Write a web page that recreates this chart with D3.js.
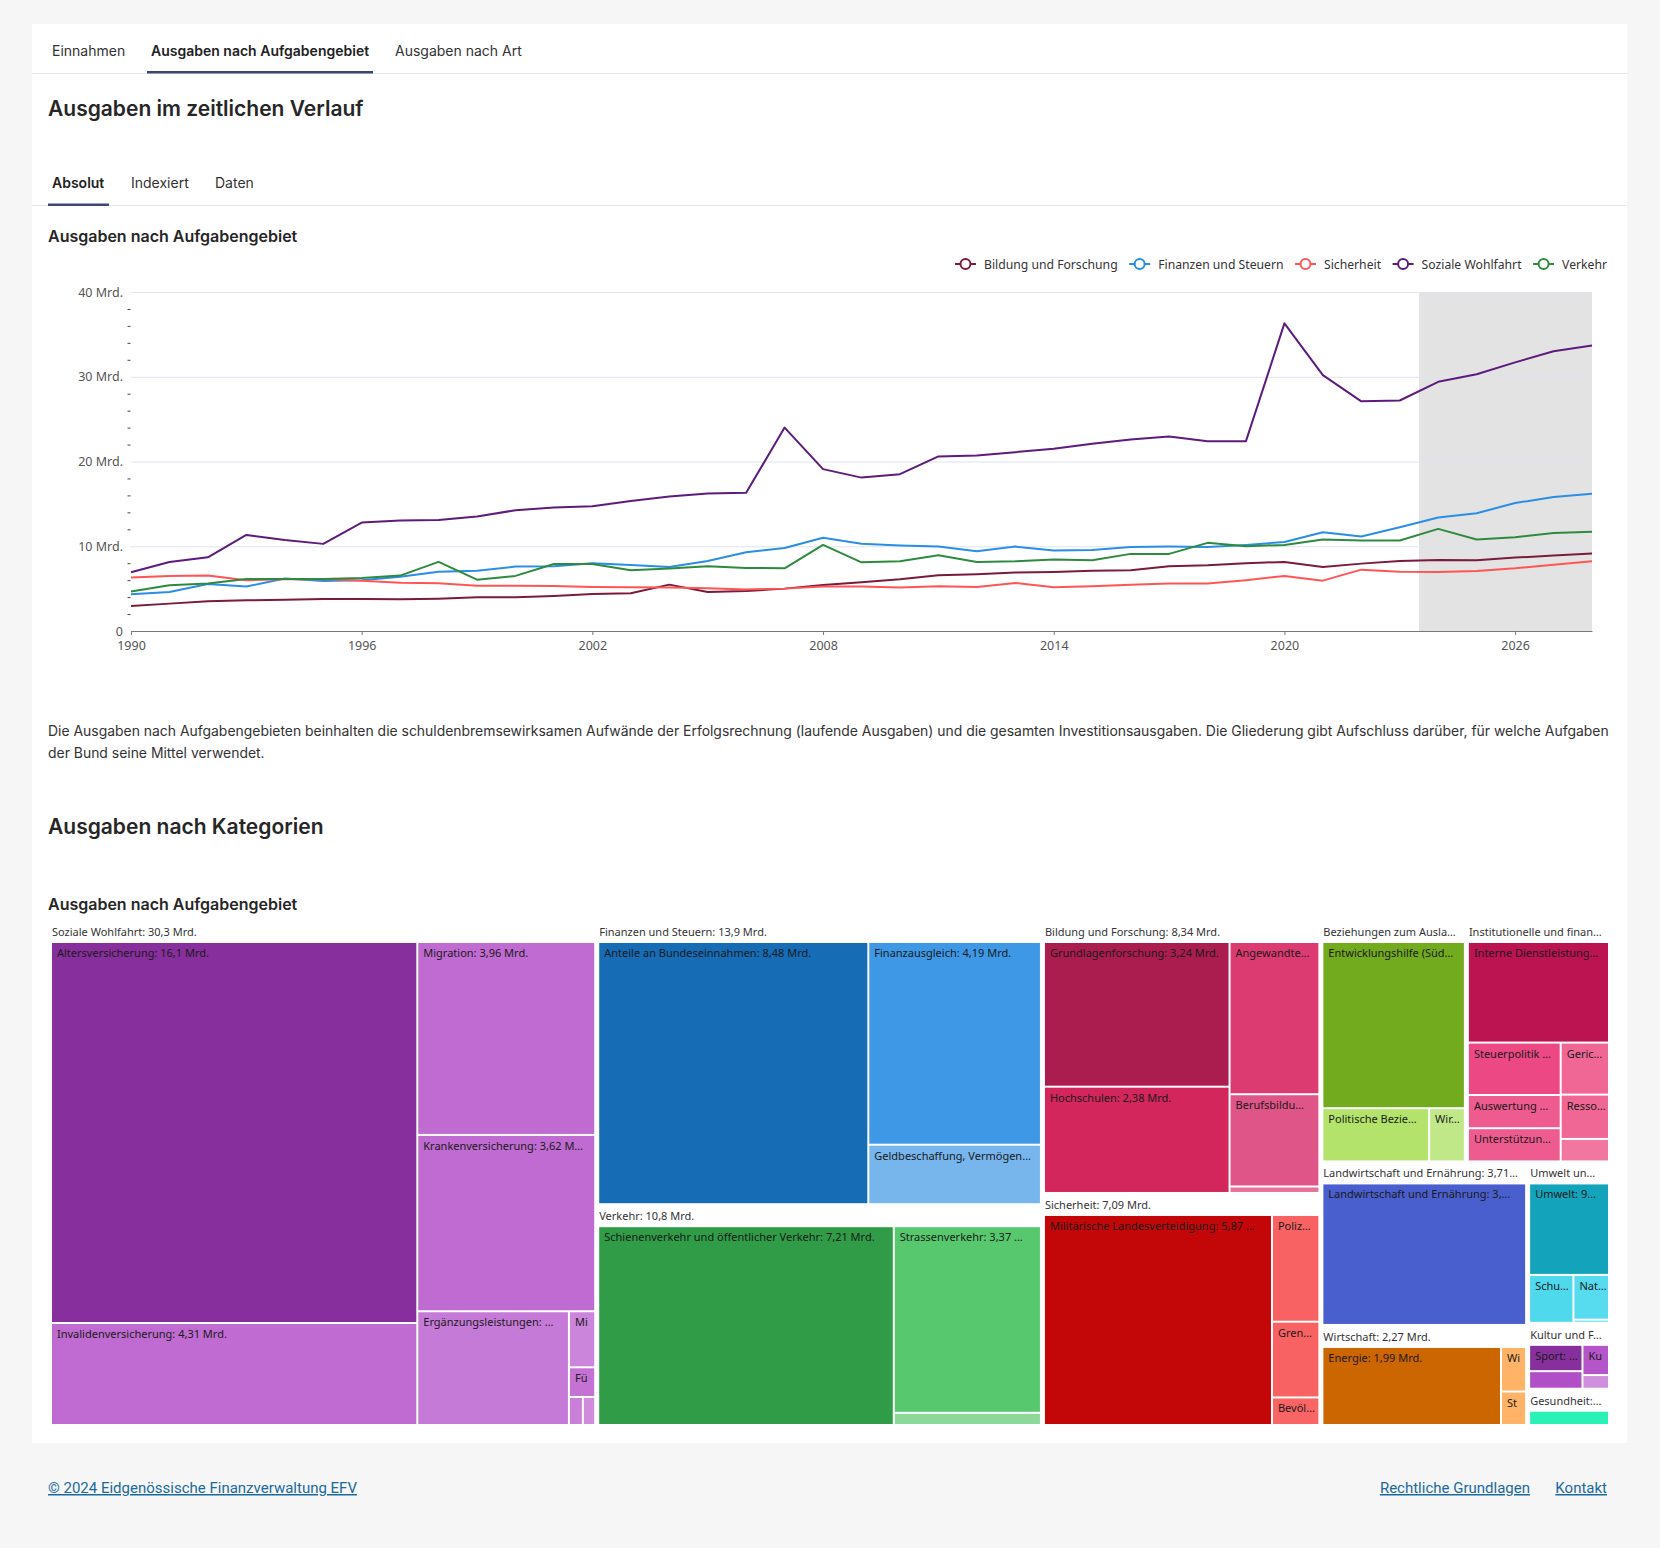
<!DOCTYPE html>
<html lang="de"><head><meta charset="utf-8">
<script src="https://cdn.jsdelivr.net/npm/d3@7/dist/d3.min.js"></script>
<style>
body{margin:0;background:#f6f6f6;overflow:hidden;}
svg{display:block;}
.ui{font-family:Inter,"Noto Sans",sans-serif;}
.ch{font-family:"Noto Sans","Open Sans",sans-serif;}
</style></head><body>
<svg id="page" width="1660" height="1548"></svg>
<script>
// ---------- DATA ----------
const years = [1990,1991,1992,1993,1994,1995,1996,1997,1998,1999,2000,2001,2002,2003,2004,2005,2006,2007,2008,2009,2010,2011,2012,2013,2014,2015,2016,2017,2018,2019,2020,2021,2022,2023,2024,2025,2026,2027,2028];
const bildung    = [2.95,3.23,3.5,3.62,3.7,3.78,3.78,3.74,3.82,3.98,3.98,4.13,4.37,4.45,5.47,4.6,4.72,5.0,5.43,5.75,6.1,6.57,6.7,6.9,6.97,7.1,7.17,7.64,7.76,8.0,8.15,7.56,7.95,8.27,8.39,8.34,8.66,8.9,9.13];
const finanzen   = [4.33,4.6,5.55,5.24,6.2,5.9,6.0,6.4,7.0,7.1,7.6,7.64,8.0,7.8,7.56,8.27,9.3,9.8,11.0,10.3,10.1,9.96,9.4,9.96,9.5,9.57,9.9,9.96,9.92,10.16,10.5,11.65,11.14,12.24,13.4,13.9,15.1,15.8,16.2];
const sicherheit = [6.3,6.5,6.54,6.0,6.1,6.14,5.94,5.7,5.63,5.35,5.35,5.3,5.2,5.16,5.12,5.04,4.9,5.0,5.24,5.24,5.12,5.28,5.2,5.67,5.16,5.28,5.47,5.6,5.6,6.0,6.5,5.94,7.24,7.0,6.97,7.09,7.4,7.83,8.23];
const soziale    = [6.93,8.15,8.7,11.34,10.75,10.28,12.8,13.03,13.1,13.5,14.25,14.57,14.72,15.35,15.87,16.22,16.3,24.0,19.1,18.1,18.5,20.6,20.7,21.1,21.5,22.1,22.6,22.95,22.4,22.4,36.3,30.2,27.1,27.2,29.4,30.3,31.7,33.0,33.7];
const verkehr    = [4.65,5.4,5.6,6.14,6.14,6.14,6.26,6.54,8.15,6.06,6.5,7.9,7.9,7.17,7.36,7.64,7.44,7.4,10.16,8.1,8.23,8.94,8.15,8.23,8.43,8.35,9.1,9.1,10.4,10.0,10.16,10.8,10.67,10.67,12.05,10.8,11.06,11.57,11.7];
const seriesNames = ["Bildung und Forschung","Finanzen und Steuern","Sicherheit","Soziale Wohlfahrt","Verkehr"];
const seriesValues = [bildung, finanzen, sicherheit, soziale, verkehr];
const forecastStartYear = 2024;
const yMajorTicks = [0,10,20,30,40];
const yMinorTicks = [2,4,6,8,12,14,16,18,22,24,26,28,32,34,36,38];
const xTicks = [1990,1996,2002,2008,2014,2020,2026];

// Treemap (Mrd. CHF)
const tmGroupNames = ["Soziale Wohlfahrt","Finanzen und Steuern","Verkehr","Bildung und Forschung","Sicherheit",
  "Beziehungen zum Ausland – Internationale Zusammenarbeit","Institutionelle und finanzielle Voraussetzungen",
  "Landwirtschaft und Ernährung","Wirtschaft","Umwelt und Raumordnung","Kultur und Freizeit","Gesundheit"];
const tmSoziale = [["Altersversicherung",16.1],["Invalidenversicherung",4.31],["Migration",3.96],["Krankenversicherung",3.62],["Ergänzungsleistungen",1.99],["Militärversicherung",0.17],["Fürsorge",0.09],["Sozialer Wohnungsbau",0.045],["Familienpolitik",0.04]];
const tmFinanzen = [["Anteile an Bundeseinnahmen",8.48],["Finanzausgleich",4.19],["Geldbeschaffung, Vermögens- und Schuldenverwaltung",1.23]];
const tmVerkehr = [["Schienenverkehr und öffentlicher Verkehr",7.21],["Strassenverkehr",3.37],["Luftfahrt",0.22]];
const tmBildung = [["Grundlagenforschung",3.24],["Hochschulen",2.38],["Angewandte Forschung",1.65],["Berufsbildung",1.0],["Übriges Bildungswesen",0.07]];
const tmSicherheit = [["Militärische Landesverteidigung",5.87],["Polizei",0.62],["Grenzkontrolle",0.44],["Bevölkerungsschutz",0.16]];
const tmAusland = [["Entwicklungshilfe (Süd- und Ostländer)",2.92],["Politische Beziehungen",0.70],["Wirtschaftliche Beziehungen",0.235]];
const tmInstitutionell = [["Interne Dienstleistungen",1.75],["Steuerpolitik und Steuererhebung",0.60],["Auswertung und Statistik",0.38],["Unterstützung der Regierung",0.38],["Gerichte",0.31],["Ressourcenverwaltung",0.264],["Legislative",0.134]];
const tmLandwirtschaft = [["Landwirtschaft und Ernährung",3.71]];
const tmWirtschaft = [["Energie",1.99],["Wirtschaftsordnung",0.16],["Standortförderung",0.12]];
const tmUmwelt = [["Umwelt",0.963],["Schutz vor Naturgefahren",0.28],["Naturschutz",0.21],["Raumordnung",0.015]];
const tmKultur = [["Sport",0.24],["Kulturerhaltung",0.16],["Kulturförderung",0.137],["Medien",0.062]];
const tmGesundheit = [["Gesundheit",0.33]];
const tmGroupItems = [tmSoziale,tmFinanzen,tmVerkehr,tmBildung,tmSicherheit,tmAusland,tmInstitutionell,tmLandwirtschaft,tmWirtschaft,tmUmwelt,tmKultur,tmGesundheit];

// ---------- STYLES ----------
const seriesColors = ["#7a1a3c","#2a8de6","#ff5555","#5c1b7d","#2e8a3e"];
const leafColors = {
  "Altersversicherung":"#872f9c","Invalidenversicherung":"#bf6bd1","Migration":"#bf6bd1","Krankenversicherung":"#bf6bd1",
  "Ergänzungsleistungen":"#c67ad7","Militärversicherung":"#cb85da","Fürsorge":"#c473d5","Sozialer Wohnungsbau":"#c97ed8","Familienpolitik":"#cf8cdc",
  "Anteile an Bundeseinnahmen":"#176cb6","Finanzausgleich":"#3e98e5","Geldbeschaffung, Vermögens- und Schuldenverwaltung":"#77b5ed",
  "Schienenverkehr und öffentlicher Verkehr":"#309c47","Strassenverkehr":"#57c86e","Luftfahrt":"#8cd899",
  "Grundlagenforschung":"#ab1d4e","Hochschulen":"#d2265d","Angewandte Forschung":"#dc3b72","Berufsbildung":"#e05587","Übriges Bildungswesen":"#e77299",
  "Militärische Landesverteidigung":"#c30608","Polizei":"#f96262","Grenzkontrolle":"#f96262","Bevölkerungsschutz":"#f96565",
  "Entwicklungshilfe (Süd- und Ostländer)":"#73ab1f","Politische Beziehungen":"#b3e36a","Wirtschaftliche Beziehungen":"#c0e889",
  "Interne Dienstleistungen":"#bb1450","Steuerpolitik und Steuererhebung":"#ec4884","Auswertung und Statistik":"#ee5b8f","Unterstützung der Regierung":"#ee5b8f",
  "Gerichte":"#f06795","Ressourcenverwaltung":"#f06795","Legislative":"#f177a0",
  "Landwirtschaft und Ernährung":"#4a5fce",
  "Energie":"#cc6600","Wirtschaftsordnung":"#ffb366","Standortförderung":"#ffb366",
  "Umwelt":"#13a3bb","Schutz vor Naturgefahren":"#4ed9ec","Naturschutz":"#56dcee","Raumordnung":"#6ae1f1",
  "Sport":"#872f9c","Kulturerhaltung":"#b04fc6","Kulturförderung":"#b456c9","Medien":"#d08fdc",
  "Gesundheit":"#2af1b5"
};

// ---------- PAGE ----------
const svg = d3.select("#page");
svg.append("rect").attr("x",32).attr("y",24).attr("width",1595).attr("height",1419).attr("fill","#fff");

const ui = svg.append("g").attr("class","ui");
function uiText(x, yb, txt, size, weight, color, anchor){
  return ui.append("text").attr("x",x).attr("y",yb).attr("font-size",size).attr("font-weight",weight||400)
    .attr("fill",color||"#333").attr("text-anchor",anchor||"start").text(txt);
}
// main tabs
ui.append("line").attr("x1",32).attr("x2",1627).attr("y1",73.5).attr("y2",73.5).attr("stroke","#e8e8e8");
uiText(52,56,"Einnahmen",14,400,"#333");
uiText(151,56,"Ausgaben nach Aufgabengebiet",14,600,"#222");
uiText(395,56,"Ausgaben nach Art",14,400,"#333");
ui.append("rect").attr("x",147).attr("y",71).attr("width",226).attr("height",2.5).attr("fill","#3b4677");
uiText(48,116,"Ausgaben im zeitlichen Verlauf",21,600,"#262626");
// sub tabs
ui.append("line").attr("x1",32).attr("x2",1627).attr("y1",205.5).attr("y2",205.5).attr("stroke","#e8e8e8");
uiText(52,188,"Absolut",14,600,"#222");
uiText(131,188,"Indexiert",14,400,"#333");
uiText(215,188,"Daten",14,400,"#333");
ui.append("rect").attr("x",48).attr("y",203.5).attr("width",61).attr("height",2.5).attr("fill","#3b4677");
uiText(48,242,"Ausgaben nach Aufgabengebiet",16,600,"#262626");
// paragraph (fit first line to the text column width)
const p1 = uiText(48,736,"Die Ausgaben nach Aufgabengebieten beinhalten die schuldenbremsewirksamen Aufwände der Erfolgsrechnung (laufende Ausgaben) und die gesamten Investitionsausgaben. Die Gliederung gibt Aufschluss darüber, für welche Aufgaben",14.5,400,"#333");
const pSize = 14.5 * 1562 / p1.node().getComputedTextLength();
p1.attr("font-size", pSize);
uiText(48,758,"der Bund seine Mittel verwendet.",pSize,400,"#333");
uiText(48,834,"Ausgaben nach Kategorien",21,600,"#262626");
uiText(48,910,"Ausgaben nach Aufgabengebiet",16,600,"#262626");
// footer
const foot = svg.append("g").attr("font-family","Roboto,Inter,sans-serif").attr("font-size",15).attr("fill","#1b6a9e").style("text-decoration","underline");
foot.append("text").attr("x",48).attr("y",1493).text("© 2024 Eidgenössische Finanzverwaltung EFV");
foot.append("text").attr("x",1530).attr("y",1493).attr("text-anchor","end").text("Rechtliche Grundlagen");
foot.append("text").attr("x",1607).attr("y",1493).attr("text-anchor","end").text("Kontakt");

// ---------- LINE CHART ----------
const X0=131, X1=1592, Y0=631, Y1=292;
const x = d3.scaleLinear().domain([years[0], years[years.length-1]]).range([X0, X1]);
const y = d3.scaleLinear().domain([0, 40]).range([Y0, Y1]);
const gC = svg.append("g").attr("class","ch");

gC.append("rect").attr("x", x(forecastStartYear-0.5)).attr("y", Y1)
  .attr("width", X1 - x(forecastStartYear-0.5)).attr("height", Y0-Y1).attr("fill","#e3e3e3");

gC.append("g").attr("transform",`translate(${X0},0)`)
  .call(d3.axisLeft(y).tickValues(yMajorTicks.filter(v=>v>0)).tickSize(-(X1-X0)).tickFormat(""))
  .call(g=>g.select(".domain").remove())
  .selectAll("line").attr("stroke","#dfe4f1");

gC.append("g").attr("transform",`translate(${X0},0)`)
  .call(d3.axisLeft(y).tickValues(yMajorTicks).tickSize(0).tickPadding(8).tickFormat(v => v===0 ? "0" : v+" Mrd."))
  .call(g=>g.select(".domain").remove())
  .attr("font-family",null).attr("font-size",12.5)
  .selectAll("text").attr("fill","#555");

gC.append("g").attr("transform",`translate(${X0-0.5},0)`)
  .call(d3.axisLeft(y).tickValues(yMinorTicks).tickSize(3).tickFormat(""))
  .call(g=>g.select(".domain").remove())
  .selectAll("line").attr("stroke","#444");

gC.append("g").attr("transform",`translate(0,${Y0})`)
  .call(d3.axisBottom(x).tickValues(xTicks).tickSize(4).tickSizeOuter(0).tickPadding(6).tickFormat(d3.format("d")))
  .attr("font-family",null).attr("font-size",12.5)
  .call(g=>g.select(".domain").attr("stroke","#777"))
  .call(g=>g.selectAll(".tick line").attr("stroke","#777"))
  .selectAll("text").attr("fill","#555");

const line = d3.line().x((d,i)=>x(years[i])).y(d=>y(d));
seriesValues.forEach((vals,i)=>{
  gC.append("path").datum(vals).attr("fill","none").attr("stroke",seriesColors[i])
    .attr("stroke-width",2).attr("stroke-linejoin","round").attr("d",line);
});

// legend (right aligned)
const leg = gC.append("g").attr("font-size",12.2);
const items = seriesNames.map((n,i)=>{
  const g = leg.append("g");
  g.append("line").attr("x1",0).attr("x2",21).attr("y1",0).attr("y2",0).attr("stroke",seriesColors[i]).attr("stroke-width",2);
  g.append("circle").attr("cx",10.5).attr("cy",0).attr("r",5).attr("fill","#fff").attr("stroke",seriesColors[i]).attr("stroke-width",2);
  const t = g.append("text").attr("x",29).attr("y",4.5).attr("fill","#333").text(n);
  return {g, w: 29 + t.node().getComputedTextLength()};
});
let lx = 1607;
for (let i = items.length-1; i>=0; i--){ lx -= items[i].w; items[i].g.attr("transform",`translate(${lx},264)`); lx -= 11.5; }

// ---------- TREEMAP ----------
const loc = d3.formatLocale({decimal:",", thousands:"'", grouping:[3], currency:["CHF ",""]});
const f3 = loc.format(".3r");
const fmt = v => v >= 1 ? f3(v)+" Mrd." : f3(v*1000)+" Mio.";

const data = {name:"root", children: tmGroupNames.map((g,i)=>({name:g, children: tmGroupItems[i].map(([n,v])=>({name:n, value:v}))}))};
const root = d3.hierarchy(data).sum(d=>d.value).sort((a,b)=>b.value-a.value);
const sqRoot = d3.treemapSquarify.ratio(1.3), sqInner = d3.treemapSquarify;
d3.treemap()
  .tile((node,a,b,c,d)=> (node.depth===0 ? sqRoot : sqInner)(node,a,b,c,d))
  .size([1556,500])
  .paddingInner(n => n.depth===0 ? 5 : 2)
  .paddingTop(n => n.depth===1 ? 19 : 0)(root);

const gT = svg.append("g").attr("class","ch").attr("transform","translate(52,924)").attr("font-size",11);

function fitText(sel, text, maxW, clipW){
  sel.text(text);
  if (sel.node().getComputedTextLength() <= maxW) return;
  let n = text.length, ok = false;
  while (n > 2){ n--; sel.text(text.slice(0,n)+"…"); if (sel.node().getComputedTextLength() <= maxW){ ok = true; break; } }
  if (!ok){
    n = text.length;
    while (n > 0){ sel.text(text.slice(0,n)); if (sel.node().getComputedTextLength() <= clipW) break; n--; }
    if (n === 0) sel.text("");
  }
}

root.leaves().forEach(l=>{
  const w = l.x1-l.x0, h = l.y1-l.y0;
  gT.append("rect").attr("x",l.x0).attr("y",l.y0).attr("width",Math.max(0,w)).attr("height",Math.max(0,h))
    .attr("fill",leafColors[l.data.name]||"#999");
  if (h >= 22 && w >= 16){
    const t = gT.append("text").attr("x",l.x0+5).attr("y",l.y0+14).attr("fill","#1a1a1a");
    fitText(t, `${l.data.name}: ${fmt(l.value)}`, w - Math.min(14, Math.max(6, w*0.15)), w - 9);
  }
});
root.children.forEach(gn=>{
  const t = gT.append("text").attr("x",gn.x0).attr("y",gn.y0+12).attr("fill","#333");
  fitText(t, `${gn.data.name}: ${fmt(gn.value)}`, gn.x1-gn.x0-6, gn.x1-gn.x0-4);
});
</script>
</body></html>
